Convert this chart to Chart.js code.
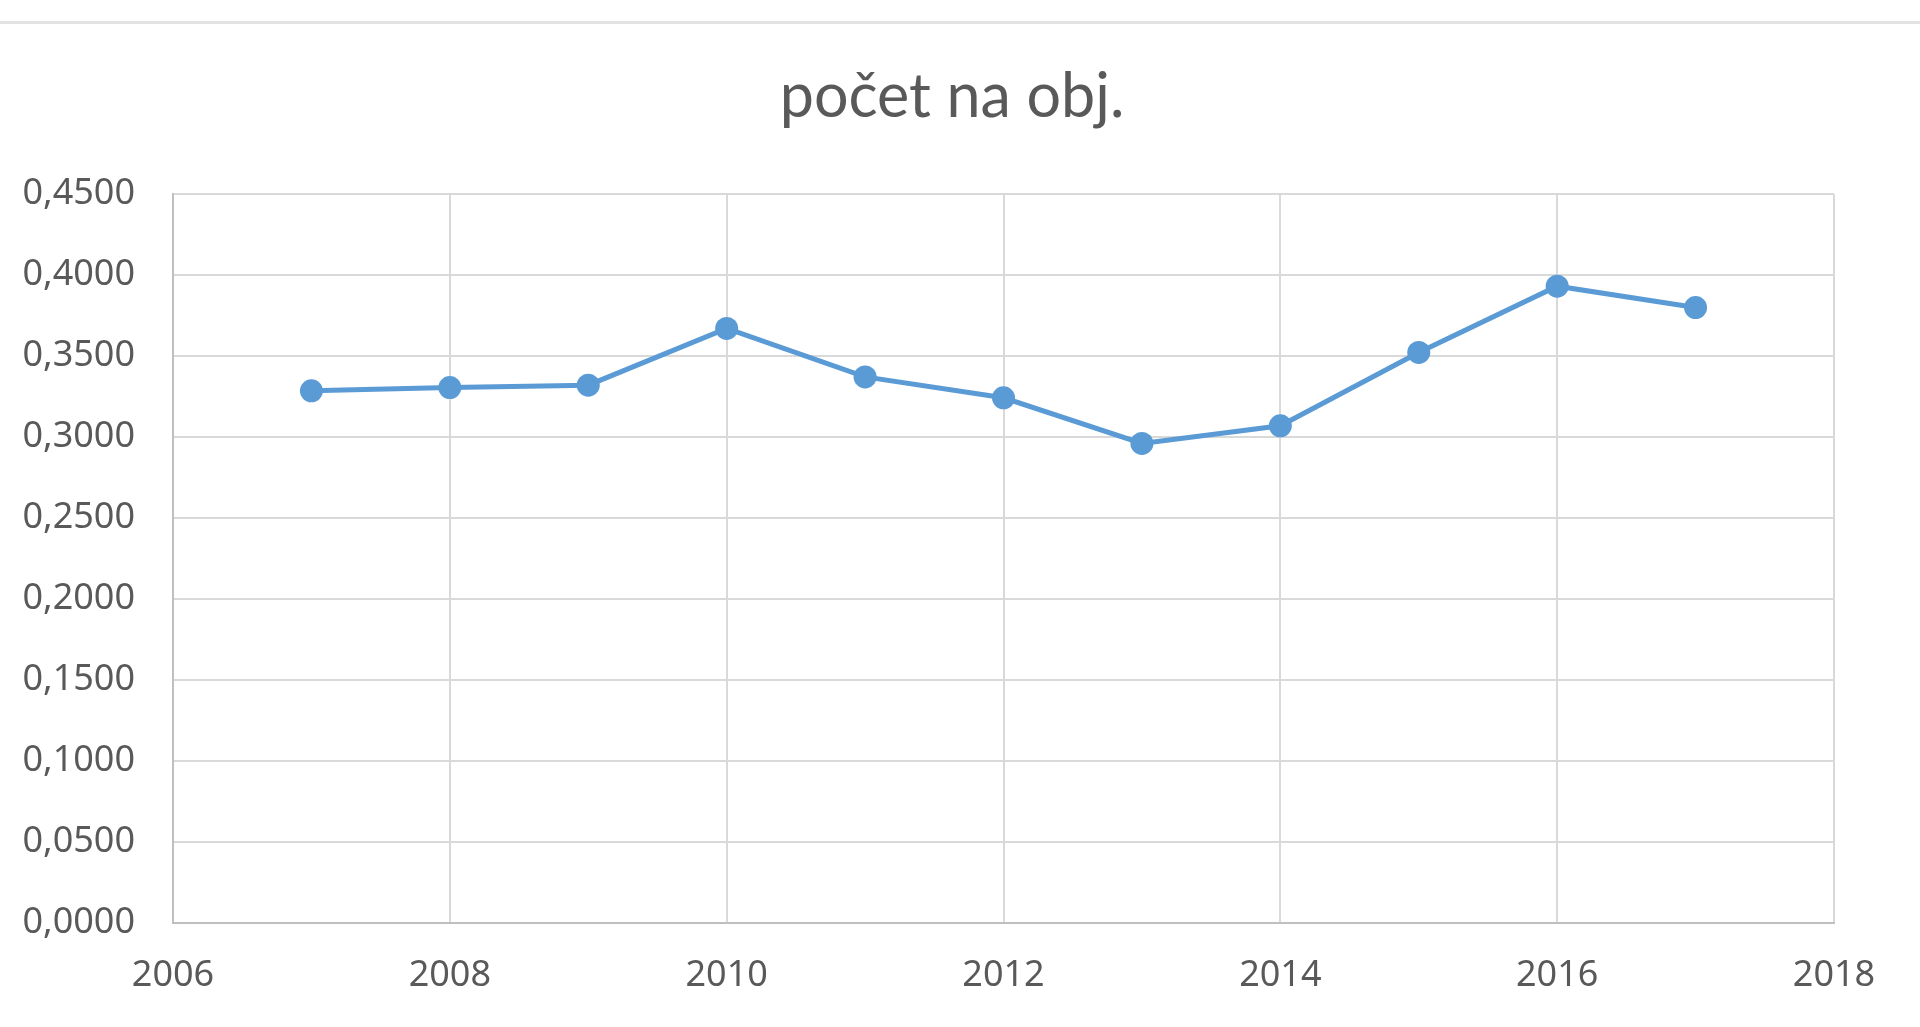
<!DOCTYPE html>
<html lang="sk">
<head>
    <meta charset="UTF-8">
    <title>počet na obj.</title>
    <style>
        html, body {
            margin: 0;
            padding: 0;
            background: #ffffff;
            overflow: hidden;
        }
        /* thin separator line at the top of the screenshot */
        .topline {
            position: absolute;
            left: 0;
            top: 21px;
            width: 1920px;
            height: 3px;
            background: #e3e3e3;
        }
        .chart-box {
            position: absolute;
            left: 0;
            top: 0;
            width: 1920px;
            height: 1027px;
        }
    </style>
    <script src="https://cdn.jsdelivr.net/npm/chart.js"></script>
</head>
<body>
    <div class="topline"></div>
    <div class="chart-box">
        <canvas id="chart"></canvas>
    </div>

    <script>
        // data
        const years = [2007, 2008, 2009, 2010, 2011, 2012, 2013, 2014, 2015, 2016, 2017];
        const values = [0.3286, 0.3306, 0.3321, 0.3671, 0.3372, 0.3243, 0.2961, 0.3070, 0.3523, 0.3932, 0.3800];
        const xTicks = [2006, 2008, 2010, 2012, 2014, 2016, 2018];
        const yTicks = [0, 0.05, 0.10, 0.15, 0.20, 0.25, 0.30, 0.35, 0.40, 0.45];

        const textColor = '#595959';
        const gridColor = '#d9d9d9';
        const axisColor = '#bfbfbf';
        const blue = '#5b9bd5';

        const points = years.map((y, i) => ({ x: y, y: values[i] }));

        // Excel centres the title over the whole chart, not the plot area
        const shiftTitle = {
            id: 'shiftTitle',
            afterLayout(chart) {
                if (chart.titleBlock) chart.titleBlock.left = 70;
            }
        };

        const ctx = document.getElementById('chart').getContext('2d');
        const chart = new Chart(ctx, {
            type: 'line',
            data: {
                datasets: [{
                    label: 'počet na obj.',
                    data: points,
                    borderColor: blue,
                    backgroundColor: blue,
                    borderWidth: 5,
                    pointRadius: 11.5,
                    pointBorderWidth: 0,
                    pointBackgroundColor: blue,
                    fill: false,
                    tension: 0
                }]
            },
            options: {
                responsive: true,
                maintainAspectRatio: false,
                animation: false,
                layout: {
                    padding: { left: 0, right: 86, top: 0, bottom: 0 }
                },
                plugins: {
                    legend: { display: false },
                    tooltip: { enabled: false },
                    title: {
                        display: true,
                        text: 'počet na obj.',
                        color: textColor,
                        font: { family: 'Lato', size: 61, weight: 'normal', lineHeight: 1.2 },
                        padding: { top: 61, bottom: 60 }
                    }
                },
                scales: {
                    x: {
                        type: 'linear',
                        min: xTicks[0],
                        max: xTicks[xTicks.length - 1],
                        afterBuildTicks: axis => { axis.ticks = xTicks.map(v => ({ value: v })); },
                        afterFit: axis => { axis.height = 104; },
                        grid: { color: gridColor, lineWidth: 2, drawTicks: false },
                        border: { color: axisColor, width: 2 },
                        ticks: {
                            color: textColor,
                            padding: 31,
                            font: { family: 'Noto Sans', size: 36 },
                            callback: v => String(v)
                        }
                    },
                    y: {
                        min: yTicks[0],
                        max: yTicks[yTicks.length - 1],
                        afterBuildTicks: axis => { axis.ticks = yTicks.map(v => ({ value: v })); },
                        afterFit: axis => { axis.width = 173; },
                        grid: { color: gridColor, lineWidth: 2, drawTicks: false },
                        border: { color: axisColor, width: 2 },
                        ticks: {
                            color: textColor,
                            padding: 38,
                            font: { family: 'Noto Sans', size: 36 },
                            callback: v => v.toFixed(4).replace('.', ',')
                        }
                    }
                }
            },
            plugins: [shiftTitle]
        });
    </script>
</body>
</html>
